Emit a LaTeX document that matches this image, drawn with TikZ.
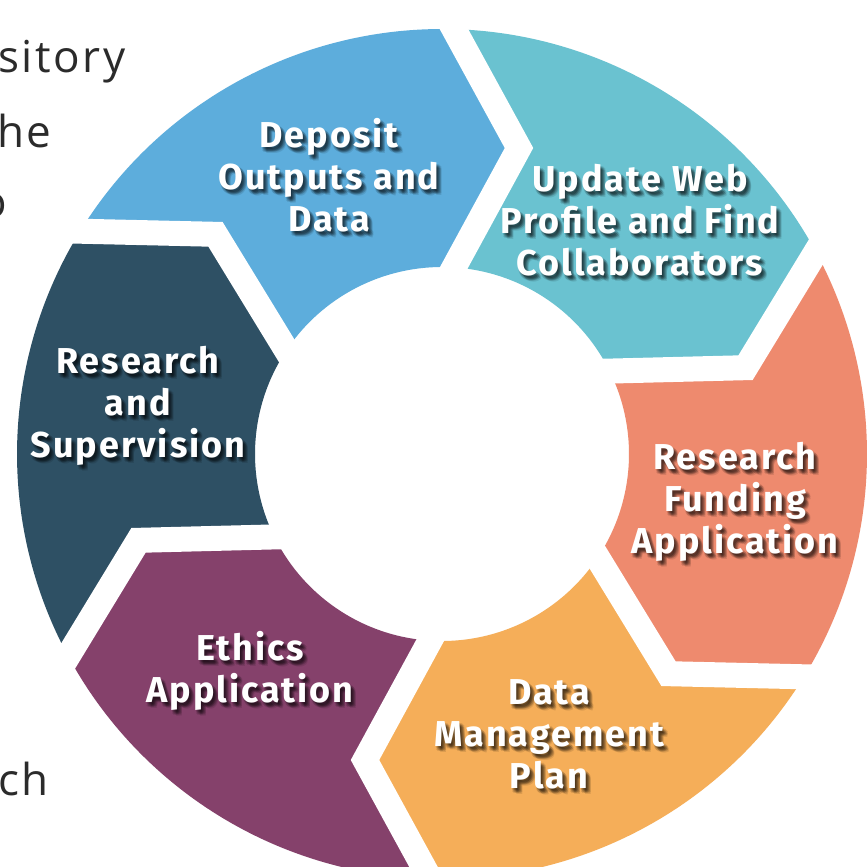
\documentclass[tikz,border=0pt]{standalone}
\usepackage{fontspec}
\setmainfont{Fira Sans}
\newfontfamily\labfont[LetterSpace=5.5]{Fira Sans}
\newfontfamily\bgfont[LetterSpace=6]{Open Sans}
\usetikzlibrary{calc}
\definecolor{cblue}{HTML}{5DADDC}
\definecolor{cteal}{HTML}{6AC2D0}
\definecolor{csalmon}{HTML}{EE8A6E}
\definecolor{corange}{HTML}{F5AE59}
\definecolor{cpurple}{HTML}{85416B}
\definecolor{cdark}{HTML}{2E5064}
\definecolor{bgtext}{HTML}{2B2B2B}
\tikzset{
  lab/.style={text=white, font=\labfont\fontsize{36}{42}\selectfont\bfseries, align=center, inner sep=0pt},
  shd/.style={lab, text=black, opacity=0.1},
  gap/.style={white, line width=25pt, line join=miter, shorten <=-20pt, shorten >=-20pt},
  bg/.style={anchor=base west, inner sep=0pt, text=bgtext, font=\bgfont\fontsize{44}{50}\selectfont},
}
\newcommand\steplabel[4]{%
  \foreach \dx/\dy [count=\i] in {1/2,2/3,3/4,4/5,3/2,2/5,5/4,4/3,5/6,1/4}{
    \node[shd] (#1-s\i) at (#2+\dx,-#3-\dy) {#4};
  }
  \node[lab] (#1) at (#2,-#3) {#4};
}
\newcommand\seg[3]{%
  \pgfmathsetmacro\pa{90-60*#1}\pgfmathsetmacro\pb{90-60*#1-60}
  \fill[#3] (O#1) arc[start angle=\pa-1.618, end angle=\pb-1.618, radius=425]
    -- (T#2) -- (I#2) arc[start angle=\pb-3.679, end angle=\pa-3.679, radius=187]
    -- (T#1) -- cycle;
}
\begin{document}
\begin{tikzpicture}[x=1pt,y=1pt]
\useasboundingbox (0,0) rectangle (867,-867);
\clip (0,0) rectangle (867,-867);
\fill[white] (0,0) rectangle (867,-867);
\begin{scope}[shift={(442,-454)}]
\foreach \k in {0,...,5}{
  \pgfmathsetmacro\ph{90-60*\k}
  \coordinate (O\k) at (\ph-1.618:425);
  \coordinate (I\k) at (\ph-3.679:187);
  \coordinate (T\k) at ($(\ph:306)+(\ph-90:77)$);
}
\seg{0}{1}{cteal}
\seg{1}{2}{csalmon}
\seg{2}{3}{corange}
\seg{3}{4}{cpurple}
\seg{4}{5}{cdark}
\seg{5}{0}{cblue}
\foreach \k in {0,...,5}{\draw[gap] (O\k) -- (T\k) -- (I\k);}
\end{scope}
\steplabel{dep}{329}{175}{Deposit\\Outputs and\\Data}
\steplabel{upd}{640}{220}{Update Web\\Profile and Find\\Collaborators}
\steplabel{fund}{735}{502}{Research\\Funding\\Application}
\steplabel{dmp}{549}{734}{Data\\Management\\Plan}
\steplabel{eth}{250}{671}{Ethics\\Application}
\steplabel{sup}{138}{406}{Research\\and\\Supervision}
\node[bg] (bg1) at (-2,-73) {sitory};
\node[bg] (bg2) at (-3,-147) {he};
\node[bg] (bg3) at (-20,-217) {o};
\node[bg] (bg4) at (-2,-795) {ch};
\end{tikzpicture}
\end{document}
